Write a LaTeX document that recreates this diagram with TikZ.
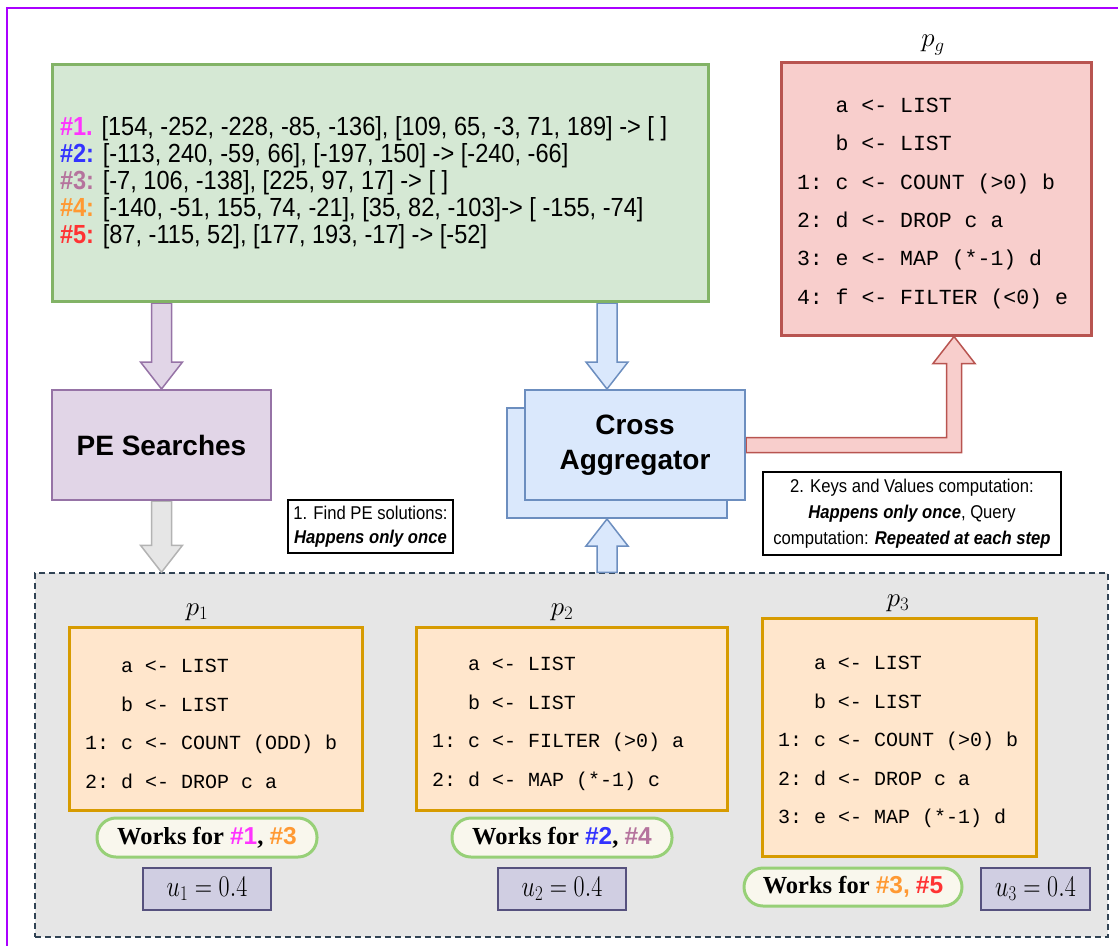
\RequirePackage{fix-cm}
\documentclass[tikz,border=0pt]{standalone}
\usepackage[no-math]{fontspec}
\usepackage{graphicx}
\setmainfont{Liberation Serif}
\setsansfont{Liberation Sans}
\setmonofont{Liberation Mono}
\newfontfamily\narrowsans{Liberation Sans}[FakeStretch=0.9]
\usetikzlibrary{calc}

\definecolor{framecol}{HTML}{AA00FF}
\definecolor{greenfill}{HTML}{D5E8D4}
\definecolor{greenline}{HTML}{82B366}
\definecolor{redfill}{HTML}{F8CECC}
\definecolor{redline}{HTML}{B85450}
\definecolor{purplefill}{HTML}{E1D5E7}
\definecolor{purpleline}{HTML}{9673A6}
\definecolor{bluefill}{HTML}{DAE8FC}
\definecolor{blueline}{HTML}{6C8EBF}
\definecolor{orangefill}{HTML}{FFE6CC}
\definecolor{orangeline}{HTML}{D79B00}
\definecolor{pillfill}{HTML}{F9F7ED}
\definecolor{pillline}{HTML}{97D077}
\definecolor{ufill}{HTML}{D0CEE2}
\definecolor{uline}{HTML}{56517E}
\definecolor{regionfill}{HTML}{E6E6E6}
\definecolor{regionline}{HTML}{314354}
\definecolor{grayfill}{HTML}{E6E6E6}
\definecolor{grayline}{HTML}{B3B3B3}
\definecolor{hone}{HTML}{FF33FF}
\definecolor{htwo}{HTML}{3333FF}
\definecolor{hthree}{HTML}{B5739D}
\definecolor{hfour}{HTML}{FF9933}
\definecolor{hfive}{HTML}{FF3333}

\pgfdeclarelayer{back}
\pgfdeclarelayer{arrows}
\pgfsetlayers{back,arrows,main}

% indent for unnumbered lines (strut pushes the block a bit down)
\newcommand{\blank}{\rule{0pt}{24pt}\phantom{1: }}
% monospaced code, full-width spaces
\newcommand{\codefont}[2]{\ttfamily\fontsize{#1}{#2}\selectfont\spaceskip 0.6em\relax}
% utility value, slightly condensed
\newcommand{\uval}[1]{\scalebox{0.8}[1]{$u_{#1} = 0.4$}}
% vertical block arrow: style, from, to, +1 down / -1 up
\newcommand{\blockarrow}[4]{%
  \draw[#1] let \p1=#2, \p2=#3 in
    ({\x1-10pt},\y1) -- ({\x1-10pt},{\y2+#4*27pt}) -- ({\x1-21pt},{\y2+#4*27pt})
    -- (\x1,\y2) -- ({\x1+21pt},{\y2+#4*27pt}) -- ({\x1+10pt},{\y2+#4*27pt})
    -- ({\x1+10pt},\y1) -- cycle;}

\tikzset{
  codebox/.style={draw=orangeline, fill=orangefill, line width=3pt, align=flush left,
    inner xsep=16pt, inner ysep=0pt, font=\codefont{20}{38.5}},
  stepbox/.style={line width=2pt, minimum width=220, minimum height=110,
    align=center, font=\sffamily\bfseries\fontsize{28}{35}\selectfont},
  works/.style={draw=pillline, fill=pillfill, line width=3pt, rounded corners=19pt,
    minimum height=39, inner sep=0pt, font=\rmfamily\bfseries\fontsize{24.5}{28}\selectfont},
  ubox/.style={draw=uline, fill=ufill, line width=2pt, minimum height=42,
    inner sep=0pt, font=\fontsize{30}{32}\selectfont},
  note/.style={draw=black, fill=white, line width=1.5pt, align=center,
    inner sep=2pt, font=\narrowsans\fontsize{18.5}{26}\selectfont},
  plabel/.style={font=\fontsize{27}{28}\selectfont},
  arrowline/.style={line width=1.5pt, line join=miter},
}

\begin{document}
\begin{tikzpicture}[x=1pt, y=-1pt]
  \useasboundingbox (0,0) rectangle (1118,945);
  \draw[framecol, line width=2pt] (7,960) -- (7,8) -- (1130,8);

  % examples
  \node[draw=greenline, fill=greenfill, line width=3pt, minimum width=656, minimum height=237,
    text width=640, inner xsep=8pt, align=flush left, font=\narrowsans\fontsize{26.2}{27}\selectfont]
    (examples) at (380,183) {%
    \textbf{\color{hone}\#1.} [154, -252, -228, -85, -136], [109, 65, -3, 71, 189] -> [ ]\\
    \textbf{\color{htwo}\#2:} [-113, 240, -59, 66], [-197, 150] -> [-240, -66]\\
    \textbf{\color{hthree}\#3:} [-7, 106, -138], [225, 97, 17] -> [ ]\\
    \textbf{\color{hfour}\#4:} [-140, -51, 155, 74, -21], [35, 82, -103]-> [ -155, -74]\\
    \textbf{\color{hfive}\#5:} [87, -115, 52], [177, 193, -17] -> [-52]};

  % global program
  \node[plabel] (pglab) at (933,45) {$p_g$};
  \node[codebox, draw=redline, fill=redfill, text width=278, minimum height=273,
    font=\codefont{21.5}{38.4}] (pg) at (936,198.5) {%
    \blank a <- LIST\\ \blank b <- LIST\\ 1: c <- COUNT (>0) b\\
    2: d <- DROP c a\\ 3: e <- MAP (*-1) d\\ 4: f <- FILTER (<0) e};

  \node[stepbox, draw=purpleline, fill=purplefill, minimum width=219] (pe) at (161.5,445) {PE Searches};
  \node[stepbox, draw=blueline, fill=bluefill] (aggback) at (617,463) {};
  \node[stepbox, draw=blueline, fill=bluefill] (agg) at (635,445) {Cross\\Aggregator};

  \node[note, minimum width=165, minimum height=53, font=\narrowsans\fontsize{18.5}{24}\selectfont]
    (note1) at (370.5,526.5) {1. Find PE solutions:\\ \textbf{\textit{Happens only once}}};
  \node[note, minimum width=298, minimum height=83] (note2) at (912,513.5)
    {2. Keys and Values computation:\\ \textbf{\textit{Happens only once}}, Query\\
     computation: \textbf{\textit{Repeated at each step}}};

  % candidate programs
  \begin{pgfonlayer}{back}
    \node[draw=regionline, fill=regionfill, line width=1.5pt, dash pattern=on 6pt off 4pt,
      minimum width=1073, minimum height=364] (region) at (571.5,755) {};
  \end{pgfonlayer}

  \node[plabel] (p1lab) at (197,612) {$p_1$};
  \node[codebox, text width=261, minimum height=183] (p1) at (215.5,718.5) {%
    \blank a <- LIST\\ \blank b <- LIST\\ 1: c <- COUNT (ODD) b\\ 2: d <- DROP c a};
  \node[works, minimum width=220] (w1) at (207,837.5)
    {Works for {\sffamily\color{hone}\#1}, {\sffamily\color{hfour}\#3}};
  \node[ubox, minimum width=128] (u1) at (207,889) {\uval{1}};

  \node[plabel] (p2lab) at (562,612) {$p_2$};
  \node[codebox, text width=279, minimum height=183] (p2) at (571.5,718.5) {%
    \blank a <- LIST\\ \blank b <- LIST\\ 1: c <- FILTER (>0) a\\ 2: d <- MAP (*-1) c};
  \node[works, minimum width=220] (w2) at (562,837.5)
    {Works for {\sffamily\color{htwo}\#2}, {\sffamily\color{hthree}\#4}};
  \node[ubox, minimum width=128] (u2) at (562,889) {\uval{2}};

  \node[plabel] (p3lab) at (898,603) {$p_3$};
  \node[codebox, text width=242, minimum height=238] (p3) at (899,737) {%
    \blank a <- LIST\\ \blank b <- LIST\\ 1: c <- COUNT (>0) b\\
    2: d <- DROP c a\\ 3: e <- MAP (*-1) d};
  \node[works, minimum width=218, minimum height=38] (w3) at (853,887)
    {Works for {\sffamily\color{hfour}\#3,} {\sffamily\color{hfive}\#5}};
  \node[ubox, minimum width=109] (u3) at (1035.5,889) {\uval{3}};

  % arrows
  \coordinate (aggx) at (607,0);
  \coordinate (pgtip) at ($(pg.south)+(18,0)$);
  \begin{pgfonlayer}{arrows}
    \blockarrow{arrowline, draw=purpleline, fill=purplefill}{(pe.north |- examples.south)}{(pe.north)}{1}
    \blockarrow{arrowline, draw=blueline, fill=bluefill}{(aggx |- examples.south)}{(aggx |- agg.north)}{1}
    \blockarrow{arrowline, draw=grayline, fill=grayfill}{(pe.south)}{(pe.south |- region.north)}{1}
    \blockarrow{arrowline, draw=blueline, fill=bluefill}{(aggx |- region.north)}{(aggx |- aggback.south)}{-1}
    \draw[arrowline, draw=redline, fill=redfill] let \p1=(agg.east), \p2=(pgtip) in
      (\x1,{\y1+7.5pt}) -- ({\x2-7.5pt},{\y1+7.5pt}) -- ({\x2-7.5pt},{\y2-27pt})
      -- ({\x2-21pt},{\y2-27pt}) -- (\x2,\y2) -- ({\x2+21pt},{\y2-27pt})
      -- ({\x2+7.5pt},{\y2-27pt}) -- ({\x2+7.5pt},{\y1-7.5pt}) -- (\x1,{\y1-7.5pt}) -- cycle;
  \end{pgfonlayer}
\end{tikzpicture}
\end{document}
